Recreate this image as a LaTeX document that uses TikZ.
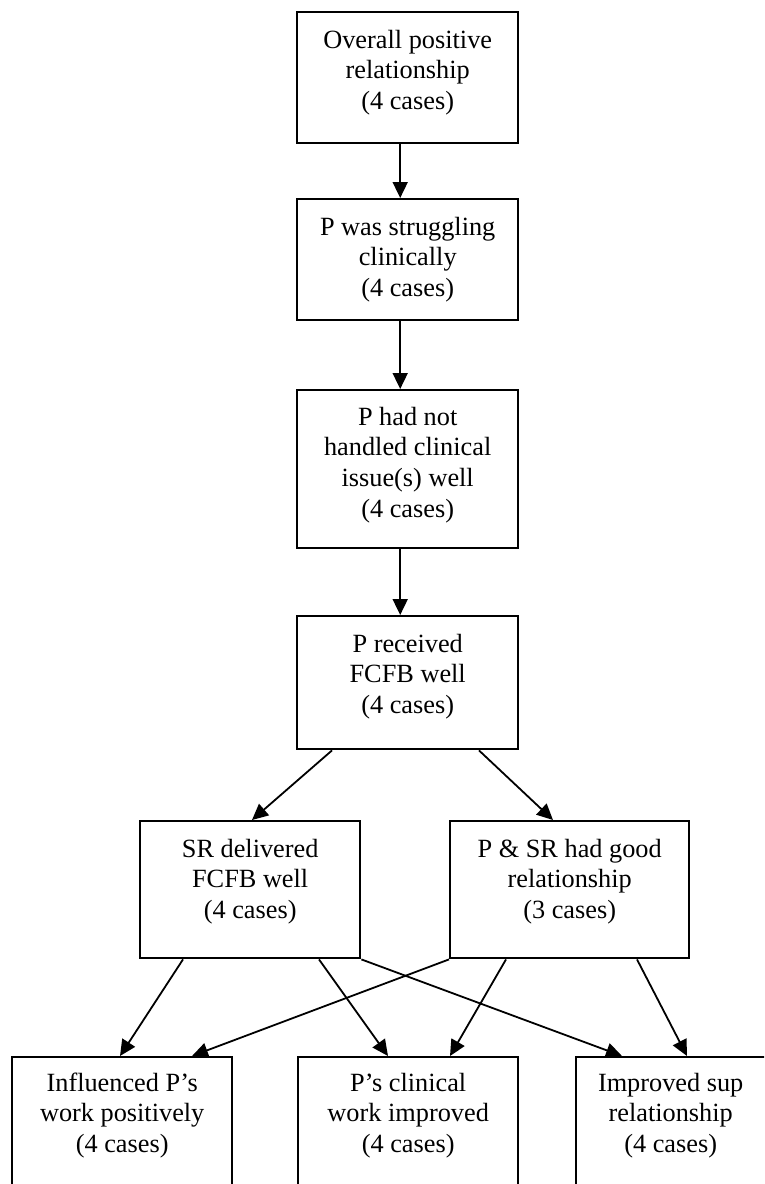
\documentclass[tikz,border=0pt]{standalone}
\usepackage{fontspec}
\setmainfont{Liberation Serif}
\usetikzlibrary{arrows.meta}
\begin{document}
\begin{tikzpicture}[x=1pt,y=-1pt,
  box/.style={draw,line width=2.4pt,inner sep=0pt,anchor=north west},
  lbl/.style={align=center,inner sep=0pt,anchor=base,font=\fontsize{26.3}{30.7}\selectfont},
  arr/.style={line width=1.8pt,-{Triangle[length=16pt,width=15pt]}}]
\clip (0,0) rectangle (764,1184);
\fill[white] (0,0) rectangle (764,1184);
% boxes
\node[box,minimum width=221pt,minimum height=131pt] (b1) at (296,11) {};
\node[box,minimum width=221pt,minimum height=121pt] (b2) at (296,198) {};
\node[box,minimum width=221pt,minimum height=158pt] (b3) at (296,389) {};
\node[box,minimum width=221pt,minimum height=133pt] (b4) at (296,615) {};
\node[box,minimum width=220pt,minimum height=137pt] (b5) at (139,820) {};
\node[box,minimum width=239pt,minimum height=137pt] (b6) at (449,820) {};
\node[box,minimum width=220pt,minimum height=160pt] (b7) at (11,1056) {};
\node[box,minimum width=220pt,minimum height=160pt] (b8) at (297,1056) {};
\node[box,minimum width=221pt,minimum height=160pt] (b9) at (575,1056) {};
% labels (base = baseline of the last line)
\node[lbl] (t1) at ([yshift=-98.4pt]b1.north) {Overall positive\\relationship\\(4 cases)};
\node[lbl] (t2) at ([yshift=-98.4pt]b2.north) {P was struggling\\clinically\\(4 cases)};
\node[lbl] (t3) at ([yshift=-128.1pt]b3.north) {P had not\\handled clinical\\issue(s) well\\(4 cases)};
\node[lbl] (t4) at ([yshift=-98.4pt]b4.north) {P received\\FCFB well\\(4 cases)};
\node[lbl] (t5) at ([yshift=-98.4pt]b5.north) {SR delivered\\FCFB well\\(4 cases)};
\node[lbl] (t6) at ([yshift=-98.4pt]b6.north) {P \& SR had good\\relationship\\(3 cases)};
\node[lbl] (t7) at ([yshift=-96.4pt]b7.north) {Influenced P’s\\work positively\\(4 cases)};
\node[lbl] (t8) at ([yshift=-96.4pt]b8.north) {P’s clinical\\work improved\\(4 cases)};
\node[lbl] (t9) at ([xshift=-16pt,yshift=-96.4pt]b9.north) {Improved sup\\relationship\\(4 cases)};
% connectors
\draw[arr] ([xshift=-7.5pt]b1.south) -- ([xshift=-7.5pt]b2.north);
\draw[arr] ([xshift=-7.5pt]b2.south) -- ([xshift=-7.5pt]b3.north);
\draw[arr] ([xshift=-7.5pt]b3.south) -- ([xshift=-7.5pt]b4.north);
\draw[arr] ([xshift=36pt]b4.south west) -- ([xshift=113pt]b5.north west);
\draw[arr] ([xshift=183pt]b4.south west) -- ([xshift=104pt]b6.north west);
\draw[arr] ([xshift=44pt]b5.south west) -- ([xshift=109pt]b7.north west);
\draw[arr] ([xshift=180pt]b5.south west) -- ([xshift=91pt]b8.north west);
\draw[arr] (b5.south east) -- ([xshift=47pt]b9.north west);
\draw[arr] (b6.south west) -- ([xshift=181pt]b7.north west);
\draw[arr] ([xshift=57pt]b6.south west) -- ([xshift=153pt]b8.north west);
\draw[arr] ([xshift=188pt]b6.south west) -- ([xshift=112pt]b9.north west);
\end{tikzpicture}
\end{document}
